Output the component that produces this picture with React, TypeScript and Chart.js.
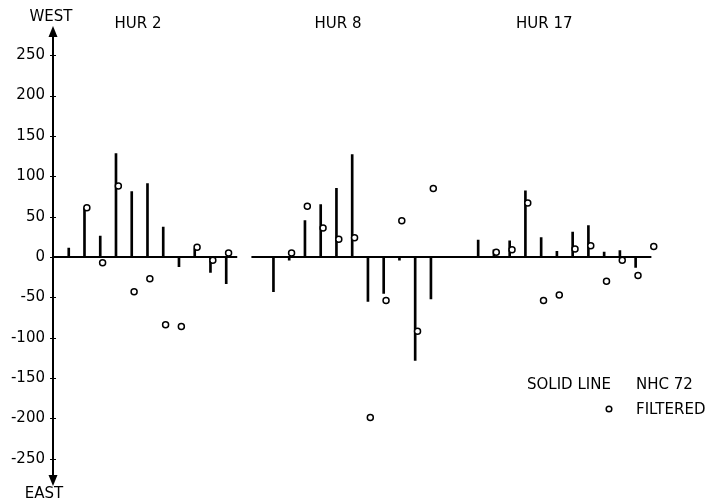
import React, { useEffect, useRef } from "react";
import { Chart, registerables } from "chart.js";

Chart.register(...registerables);

// ---------- data ----------
const categories = ["HUR 2", "HUR 8", "HUR 17"];

const hur2Slots = [1, 2, 3, 4, 5, 6, 7, 8, 9, 10, 11];
const hur2Nhc72 = [11, 61, 26, 128, 81, 91, 37, -12, 10, -19, -33];
const hur2Filtered = [null, 61, -7, 88, -43, -27, -84, -86, 12, -4, 5];

const hur8Slots = [14, 15, 16, 17, 18, 19, 20, 21, 22, 23, 24];
const hur8Nhc72 = [-43, -4, 45, 65, 85, 127, -55, -45, -4, -128, -52];
const hur8Filtered = [null, 5, 63, 36, 22, 24, -199, -54, 45, -92, 85];

const hur17Slots = [27, 28, 29, 30, 31, 32, 33, 34, 35, 36, 37, 38];
const hur17Nhc72 = [21, 9, 20, 82, 24, 7, 31, 39, 6, 8, -13, null];
const hur17Filtered = [null, 6, 9, 67, -54, -47, 10, 14, -30, -4, -23, 13];

const zeroLineSpans = [
  [0, 11.7],
  [12.6, 38.0],
];

const yTickValues = [-250, -200, -150, -100, -50, 0, 50, 100, 150, 200, 250];

const legendNhc = ["SOLID LINE", "NHC 72"];
const legendFiltered = "FILTERED";
const upLabel = "WEST";
const downLabel = "EAST";

// ---------- style / layout ----------
const FONT = "15px 'DejaVu Sans', sans-serif";
const TITLE_POS = [5.4, 18.1, 31.2];
const CIRCLE_SHIFT = 0.15;

const groups = [
  { slots: hur2Slots, nhc: hur2Nhc72, filt: hur2Filtered },
  { slots: hur8Slots, nhc: hur8Nhc72, filt: hur8Filtered },
  { slots: hur17Slots, nhc: hur17Nhc72, filt: hur17Filtered },
];

const decorPlugin = {
  id: "decor",
  afterDatasetsDraw(chart: any) {
    const ctx = chart.ctx as CanvasRenderingContext2D;
    const xs = chart.scales.x;
    const ys = chart.scales.y;
    const ax = chart.chartArea.left;
    ctx.save();
    ctx.fillStyle = "#000";
    ctx.strokeStyle = "#000";
    // vertical axis
    ctx.lineWidth = 2;
    ctx.beginPath();
    ctx.moveTo(ax, 30);
    ctx.lineTo(ax, 482);
    ctx.stroke();
    // arrows
    ctx.beginPath();
    ctx.moveTo(ax, 26);
    ctx.lineTo(ax - 4.5, 37);
    ctx.lineTo(ax + 4.5, 37);
    ctx.closePath();
    ctx.fill();
    ctx.beginPath();
    ctx.moveTo(ax, 486);
    ctx.lineTo(ax - 4.5, 475);
    ctx.lineTo(ax + 4.5, 475);
    ctx.closePath();
    ctx.fill();
    // tick marks
    ctx.lineWidth = 1;
    for (const v of yTickValues) {
      const y = Math.round(ys.getPixelForValue(v)) + 0.5;
      ctx.beginPath();
      ctx.moveTo(ax - 3, y);
      ctx.lineTo(ax + 3, y);
      ctx.stroke();
    }
    ctx.font = FONT;
    ctx.textBaseline = "middle";
    // WEST / EAST
    ctx.textAlign = "center";
    ctx.fillText(upLabel, 51, 17);
    ctx.fillText(downLabel, 44, 494);
    // group titles
    categories.forEach((c, i) => {
      ctx.fillText(c, xs.getPixelForValue(TITLE_POS[i]), 24);
    });
    // legend
    ctx.textAlign = "left";
    ctx.fillText(legendNhc[0], 527, 385);
    ctx.fillText(legendNhc[1], 636, 385);
    ctx.fillText(legendFiltered, 636, 410);
    ctx.lineWidth = 1.5;
    ctx.beginPath();
    ctx.arc(609, 409, 2.8, 0, Math.PI * 2);
    ctx.stroke();
    ctx.restore();
  },
};

export default function App() {
  const ref = useRef<HTMLCanvasElement | null>(null);

  useEffect(() => {
    if (!ref.current) return;
    const barData: { x: number; y: number }[] = [];
    const circleData: { x: number; y: number }[] = [];
    groups.forEach((g) => {
      g.slots.forEach((s, i) => {
        if (g.nhc[i] !== null) barData.push({ x: s, y: g.nhc[i] as number });
        if (g.filt[i] !== null)
          circleData.push({ x: s + CIRCLE_SHIFT, y: g.filt[i] as number });
      });
    });
    const zeroSets = zeroLineSpans.map((sp) => ({
      type: "line" as const,
      data: [
        { x: sp[0], y: 0 },
        { x: sp[1], y: 0 },
      ],
      borderColor: "#000",
      borderWidth: 2,
      pointRadius: 0,
      order: 3,
    }));

    const chart = new Chart(ref.current, {
      type: "bar",
      data: {
        datasets: [
          ...zeroSets,
          {
            type: "bar" as const,
            label: "NHC 72",
            data: barData,
            backgroundColor: "#000",
            borderWidth: 0,
            barThickness: 2,
            order: 2,
          },
          {
            type: "scatter" as const,
            label: "FILTERED",
            data: circleData,
            pointRadius: 3,
            pointBorderWidth: 1.5,
            pointBackgroundColor: "#fff",
            pointBorderColor: "#000",
            borderColor: "#000",
            order: 1,
          },
        ] as any,
      },
      options: {
        responsive: false,
        maintainAspectRatio: false,
        animation: false,
        layout: { padding: { left: 0, right: 4, top: 31, bottom: 18 } },
        plugins: {
          legend: { display: false },
          tooltip: { enabled: false },
        },
        scales: {
          x: {
            type: "linear",
            min: 0,
            max: 41.5,
            offset: false,
            display: false,
          },
          y: {
            type: "linear",
            min: -280,
            max: 280,
            afterBuildTicks: (scale: any) => {
              scale.ticks = yTickValues.map((v) => ({ value: v }));
            },
            afterFit: (scale: any) => {
              scale.width = 53;
            },
            grid: { display: false, drawTicks: false },
            border: { display: false },
            ticks: {
              color: "#000",
              font: { family: "'DejaVu Sans', sans-serif", size: 15 },
              padding: 8,
              callback: (v: any) => String(v),
            },
          },
        },
      },
      plugins: [decorPlugin],
    });
    return () => chart.destroy();
  }, []);

  return (
    <div
      style={{
        position: "fixed",
        left: 0,
        top: 0,
        width: 712,
        height: 501,
        background: "#fff",
      }}
    >
      <canvas ref={ref} width={712} height={501} style={{ display: "block" }} />
    </div>
  );
}
